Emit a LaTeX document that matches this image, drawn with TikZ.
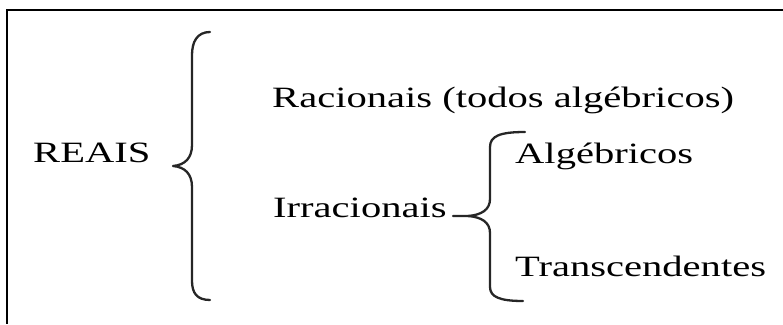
\documentclass[tikz,border=0pt]{standalone}
\usepackage{fontspec}
\setmainfont{Liberation Serif}
\newcommand{\wide}[1]{\scalebox{1.375}[1]{#1}}

\begin{document}
\begin{tikzpicture}[x=1pt, y=-1pt,
    lbl/.style={anchor=base west, inner sep=0pt, font=\fontsize{29.5}{34}\selectfont},
    brace/.style={line width=2.3pt, color=black!85, line cap=round, line join=round}]
    \useasboundingbox (0,0) rectangle (783,324);
    \draw[line width=1.2pt] (783,10) -- (7,10) -- (7,324);
    % textos
    \node[lbl] (reais) at (33,162) {\wide{REAIS}};
    \node[lbl] (racionais) at (272,107) {\wide{Racionais (todos algébricos)}};
    \node[lbl] (algebricos) at (515,163) {\wide{Algébricos}};
    \node[lbl] (irracionais) at (273,217) {\wide{Irracionais}};
    \node[lbl] (transcendentes) at (515,276) {\wide{Transcendentes}};
    % chaves
    \coordinate (tipA) at (173,166);
    \coordinate (tipB) at (468,216);
    \coordinate (stub) at (453,216);
    \draw[brace] (210,32) .. controls (197,32) and (192,42) .. (192,55) -- (192,145)
        .. controls (192,158) and (185,165) .. (tipA)
        .. controls (185,167) and (192,174) .. (192,187) -- (192,281)
        .. controls (192,293) and (197,300) .. (210,300);
    \draw[brace] (525,132) .. controls (500,132) and (490,136) .. (490,147) -- (490,199)
        .. controls (490,210) and (481,215) .. (tipB) -- (stub);
    \draw[brace] (tipB) .. controls (481,217) and (490,222) .. (490,233) -- (490,287)
        .. controls (490,297) and (500,301) .. (523,301);
\end{tikzpicture}
\end{document}
